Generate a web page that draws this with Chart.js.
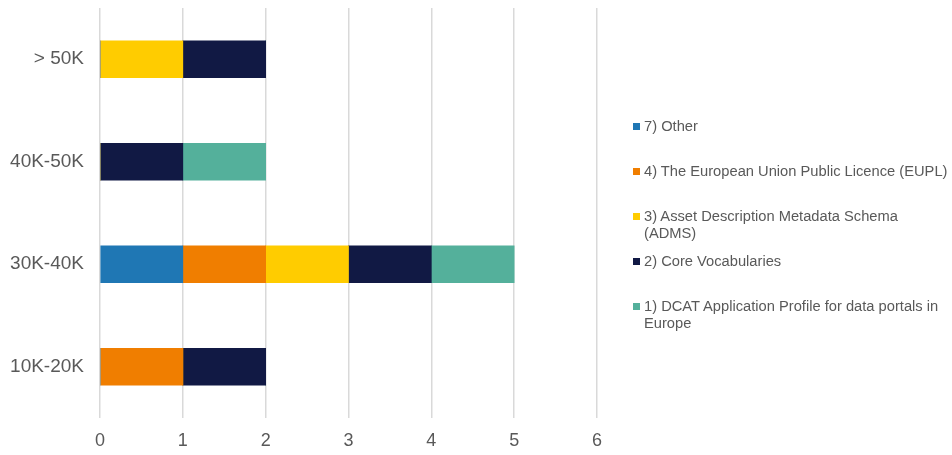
<!DOCTYPE html>
<html lang="en">
  <head>
    <meta charset="UTF-8" />
    <title>Licences by size</title>
    <script src="https://cdn.jsdelivr.net/npm/chart.js"></script>
    <style>
      body { margin: 0; background: #fff; font-family: "Liberation Sans", Arial, sans-serif; }
      #wrap { position: relative; width: 952px; height: 455px; }
      #legend { position: absolute; left: 633px; top: 0; color: #595959; font-size: 14.7px; }
      .item { position: absolute; white-space: pre; line-height: 17px; padding-left: 11px; width: 320px; }
      .box { position: absolute; left: 0; top: 5px; width: 7px; height: 7px; }
    </style>
  </head>
  <body>
    <div id="wrap">
      <canvas id="myChart" width="952" height="455"></canvas>
      <div id="legend"></div>
    </div>

    <script>
      // DATA
      const categories = ['> 50K', '40K-50K', '30K-40K', '10K-20K'];
      const seriesNames = [
        '7) Other',
        '4) The European Union Public Licence (EUPL)',
        '3) Asset Description Metadata Schema\n(ADMS)',
        '2) Core Vocabularies',
        '1) DCAT Application Profile for data portals in\nEurope'
      ];
      const other = [0, 0, 1, 0];
      const eupl = [0, 0, 1, 1];
      const adms = [1, 0, 1, 0];
      const coreVocab = [1, 1, 1, 1];
      const dcat = [0, 1, 1, 0];
      const xTicks = [0, 1, 2, 3, 4, 5, 6];

      const colors = ['#1f77b4', '#f07e00', '#ffcc00', '#111944', '#54b09b'];
      const values = [other, eupl, adms, coreVocab, dcat];

      const datasets = seriesNames.map((name, i) => ({
        label: name,
        data: values[i],
        backgroundColor: colors[i],
        barThickness: 37
      }));

      new Chart(document.getElementById('myChart'), {
        type: 'bar',
        data: { labels: categories, datasets: datasets },
        options: {
          indexAxis: 'y',
          responsive: false,
          animation: false,
          layout: { padding: { top: 8, right: 355, left: 0, bottom: 0 } },
          plugins: { legend: { display: false }, tooltip: { enabled: false } },
          scales: {
            x: {
              stacked: true,
              min: 0,
              max: 6,
              afterBuildTicks: (s) => { s.ticks = xTicks.map(v => ({ value: v })); },
              afterFit: (s) => { s.height = 37; },
              border: { display: false },
              grid: { color: '#d9d9d9', lineWidth: 1.5, drawTicks: false },
              ticks: { color: '#595959', font: { size: 18, family: 'Liberation Sans' }, padding: 12 }
            },
            y: {
              stacked: true,
              afterFit: (s) => { s.width = 100; s.paddingTop = 0; s.paddingBottom = 0; },
              border: { display: false },
              grid: { display: false, drawTicks: false },
              ticks: { color: '#595959', font: { size: 19, family: 'Liberation Sans' }, padding: 16 }
            }
          }
        }
      });

      // LEGEND
      const legend = document.getElementById('legend');
      seriesNames.forEach((name, i) => {
        let item = document.createElement('div');
        item.className = 'item';
        item.style.top = (118 + i * 45) + 'px';
        item.innerHTML = '<span class="box" style="background:' + colors[i] + '"></span>';
        item.appendChild(document.createTextNode(name));
        legend.appendChild(item);
      });
    </script>
  </body>
</html>
